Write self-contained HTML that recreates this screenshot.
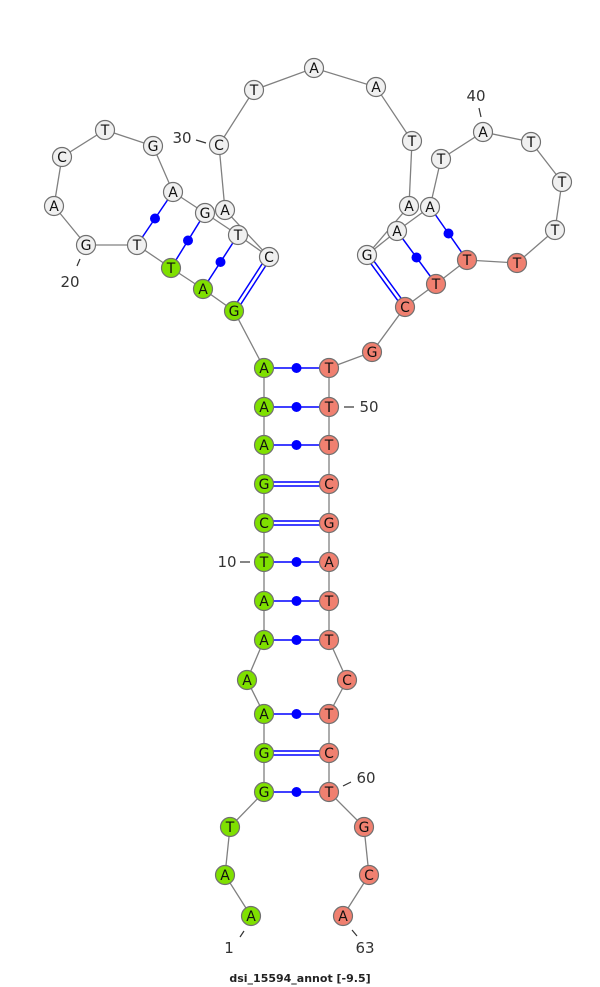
<!DOCTYPE html>
<html><head><meta charset="utf-8"><style>
html,body{margin:0;padding:0;background:#fff;}
svg{display:block;}
.n circle{stroke:#707070;stroke-width:1.2;}
.n text{font-family:"DejaVu Sans","Liberation Sans",sans-serif;font-size:14px;text-anchor:middle;fill:#111;}
.lbl{font-family:"DejaVu Sans","Liberation Sans",sans-serif;font-size:15px;fill:#333;text-anchor:middle;}
</style></head><body>
<svg width="600" height="987" viewBox="0 0 600 987" xmlns="http://www.w3.org/2000/svg">
<rect width="600" height="987" fill="#fff"/>
<polyline fill="none" stroke="#808080" stroke-width="1.3" points="251,916 225,875 230,827 264,792 264,753 264,714 247,680 264,640 264,601 264,562 264,523 264,484 264,445 264,407 264,368 234,311 203,289 171,268 137,245 86,245 54,206 62,157 105,130 153,146 173,192 205,213 238,235 269,257 225,210 219,145 254,90 314,68 376,87 412,141 409,206 367,255 397,231 430,207 441,159 483,132 531,142 562,182 555,230 517,263 467,260 436,284 405,307 372,352 329,368 329,407 329,445 329,484 329,523 329,562 329,601 329,640 347,680 329,714 329,753 329,792 364,827 369,875 343,916"/>
<g stroke="#0000ff" stroke-width="1.5" fill="none">
<line x1="264" y1="368" x2="329" y2="368"/>
<line x1="264" y1="407" x2="329" y2="407"/>
<line x1="264" y1="445" x2="329" y2="445"/>
<line x1="264" y1="482" x2="329" y2="482"/><line x1="264" y1="486" x2="329" y2="486"/>
<line x1="264" y1="521" x2="329" y2="521"/><line x1="264" y1="525" x2="329" y2="525"/>
<line x1="264" y1="562" x2="329" y2="562"/>
<line x1="264" y1="601" x2="329" y2="601"/>
<line x1="264" y1="640" x2="329" y2="640"/>
<line x1="264" y1="714" x2="329" y2="714"/>
<line x1="264" y1="751" x2="329" y2="751"/><line x1="264" y1="755" x2="329" y2="755"/>
<line x1="264" y1="792" x2="329" y2="792"/>
<line x1="235.7" y1="312.1" x2="270.7" y2="258.1"/><line x1="232.3" y1="309.9" x2="267.3" y2="255.9"/>
<line x1="203" y1="289" x2="238" y2="235"/>
<line x1="171" y1="268" x2="205" y2="213"/>
<line x1="137" y1="245" x2="173" y2="192"/>
<line x1="397" y1="231" x2="436" y2="284"/>
<line x1="430" y1="207" x2="467" y2="260"/>
<line x1="365.4" y1="256.2" x2="403.4" y2="308.2"/><line x1="368.6" y1="253.8" x2="406.6" y2="305.8"/>
</g>
<g fill="#0000ff">
<circle cx="296.5" cy="368" r="5"/><circle cx="296.5" cy="407" r="5"/><circle cx="296.5" cy="445" r="5"/>
<circle cx="296.5" cy="562" r="5"/><circle cx="296.5" cy="601" r="5"/><circle cx="296.5" cy="640" r="5"/>
<circle cx="296.5" cy="714" r="5"/><circle cx="296.5" cy="792" r="5"/>
<circle cx="220.5" cy="262" r="5"/><circle cx="188" cy="240.5" r="5"/><circle cx="155" cy="218.5" r="5"/>
<circle cx="416.5" cy="257.5" r="5"/><circle cx="448.5" cy="233.5" r="5"/>
</g>
<g stroke="#333" stroke-width="1.2">
<line x1="240" y1="937" x2="244" y2="931"/>
<line x1="352" y1="930" x2="357" y2="936"/>
<line x1="343" y1="786" x2="351" y2="782"/>
<line x1="344" y1="407" x2="354" y2="407"/>
<line x1="240" y1="562" x2="250" y2="562"/>
<line x1="80" y1="259" x2="77" y2="266"/>
<line x1="196" y1="140" x2="206" y2="143"/>
<line x1="479" y1="108" x2="481" y2="117"/>
</g>
<g class="lbl">
<text x="229" y="953">1</text>
<text x="365" y="953">63</text>
<text x="366" y="783">60</text>
<text x="369" y="412">50</text>
<text x="227" y="567">10</text>
<text x="70" y="287">20</text>
<text x="182" y="143">30</text>
<text x="476" y="101">40</text>
</g>
<text x="300" y="982" style="font-family:'DejaVu Sans','Liberation Sans',sans-serif;font-size:11px;font-weight:bold;fill:#222;text-anchor:middle">dsi_15594_annot [-9.5]</text>
<g class="n">
<g fill="#7fe000">
<circle cx="251" cy="916" r="9.5"/><circle cx="225" cy="875" r="9.5"/><circle cx="230" cy="827" r="9.5"/><circle cx="264" cy="792" r="9.5"/><circle cx="264" cy="753" r="9.5"/><circle cx="264" cy="714" r="9.5"/><circle cx="247" cy="680" r="9.5"/><circle cx="264" cy="640" r="9.5"/><circle cx="264" cy="601" r="9.5"/><circle cx="264" cy="562" r="9.5"/><circle cx="264" cy="523" r="9.5"/><circle cx="264" cy="484" r="9.5"/><circle cx="264" cy="445" r="9.5"/><circle cx="264" cy="407" r="9.5"/><circle cx="264" cy="368" r="9.5"/><circle cx="234" cy="311" r="9.5"/><circle cx="203" cy="289" r="9.5"/><circle cx="171" cy="268" r="9.5"/>
</g>
<g fill="#f0f0f0">
<circle cx="137" cy="245" r="9.5"/><circle cx="86" cy="245" r="9.5"/><circle cx="54" cy="206" r="9.5"/><circle cx="62" cy="157" r="9.5"/><circle cx="105" cy="130" r="9.5"/><circle cx="153" cy="146" r="9.5"/><circle cx="173" cy="192" r="9.5"/><circle cx="205" cy="213" r="9.5"/><circle cx="238" cy="235" r="9.5"/><circle cx="269" cy="257" r="9.5"/><circle cx="225" cy="210" r="9.5"/><circle cx="219" cy="145" r="9.5"/><circle cx="254" cy="90" r="9.5"/><circle cx="314" cy="68" r="9.5"/><circle cx="376" cy="87" r="9.5"/><circle cx="412" cy="141" r="9.5"/><circle cx="409" cy="206" r="9.5"/><circle cx="367" cy="255" r="9.5"/><circle cx="397" cy="231" r="9.5"/><circle cx="430" cy="207" r="9.5"/><circle cx="441" cy="159" r="9.5"/><circle cx="483" cy="132" r="9.5"/><circle cx="531" cy="142" r="9.5"/><circle cx="562" cy="182" r="9.5"/><circle cx="555" cy="230" r="9.5"/>
</g>
<g fill="#f08070">
<circle cx="517" cy="263" r="9.5"/><circle cx="467" cy="260" r="9.5"/><circle cx="436" cy="284" r="9.5"/><circle cx="405" cy="307" r="9.5"/><circle cx="372" cy="352" r="9.5"/><circle cx="329" cy="368" r="9.5"/><circle cx="329" cy="407" r="9.5"/><circle cx="329" cy="445" r="9.5"/><circle cx="329" cy="484" r="9.5"/><circle cx="329" cy="523" r="9.5"/><circle cx="329" cy="562" r="9.5"/><circle cx="329" cy="601" r="9.5"/><circle cx="329" cy="640" r="9.5"/><circle cx="347" cy="680" r="9.5"/><circle cx="329" cy="714" r="9.5"/><circle cx="329" cy="753" r="9.5"/><circle cx="329" cy="792" r="9.5"/><circle cx="364" cy="827" r="9.5"/><circle cx="369" cy="875" r="9.5"/><circle cx="343" cy="916" r="9.5"/>
</g>
<text x="251" y="921">A</text><text x="225" y="880">A</text><text x="230" y="832">T</text><text x="264" y="797">G</text><text x="264" y="758">G</text><text x="264" y="719">A</text><text x="247" y="685">A</text><text x="264" y="645">A</text><text x="264" y="606">A</text><text x="264" y="567">T</text><text x="264" y="528">C</text><text x="264" y="489">G</text><text x="264" y="450">A</text><text x="264" y="412">A</text><text x="264" y="373">A</text><text x="234" y="316">G</text><text x="203" y="294">A</text><text x="171" y="273">T</text>
<text x="137" y="250">T</text><text x="86" y="250">G</text><text x="54" y="211">A</text><text x="62" y="162">C</text><text x="105" y="135">T</text><text x="153" y="151">G</text><text x="173" y="197">A</text><text x="205" y="218">G</text><text x="238" y="240">T</text><text x="269" y="262">C</text><text x="225" y="215">A</text><text x="219" y="150">C</text><text x="254" y="95">T</text><text x="314" y="73">A</text><text x="376" y="92">A</text><text x="412" y="146">T</text><text x="409" y="211">A</text><text x="367" y="260">G</text><text x="397" y="236">A</text><text x="430" y="212">A</text><text x="441" y="164">T</text><text x="483" y="137">A</text><text x="531" y="147">T</text><text x="562" y="187">T</text><text x="555" y="235">T</text>
<text x="517" y="268">T</text><text x="467" y="265">T</text><text x="436" y="289">T</text><text x="405" y="312">C</text><text x="372" y="357">G</text><text x="329" y="373">T</text><text x="329" y="412">T</text><text x="329" y="450">T</text><text x="329" y="489">C</text><text x="329" y="528">G</text><text x="329" y="567">A</text><text x="329" y="606">T</text><text x="329" y="645">T</text><text x="347" y="685">C</text><text x="329" y="719">T</text><text x="329" y="758">C</text><text x="329" y="797">T</text><text x="364" y="832">G</text><text x="369" y="880">C</text><text x="343" y="921">A</text>
</g>
</svg>
</body></html>
